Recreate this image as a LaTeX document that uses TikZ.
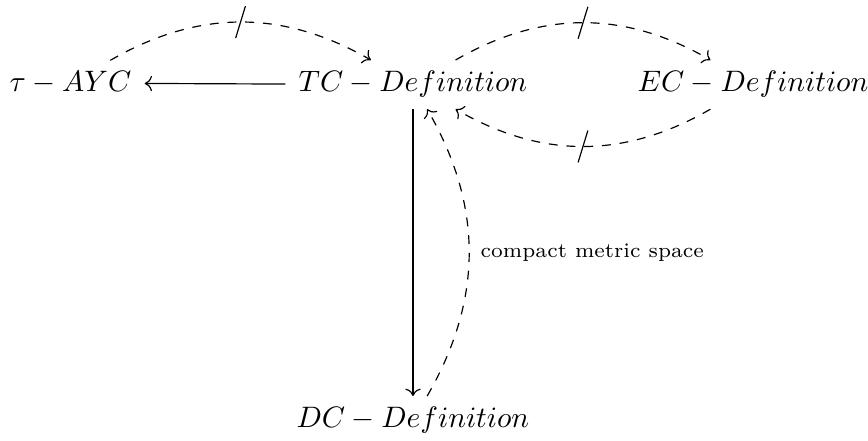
\documentclass[tikz,border=0pt]{standalone}
\usetikzlibrary{arrows.meta}
\begin{document}
\begin{tikzpicture}[x=0.338pt,y=-0.338pt,
  cell/.style={anchor=base, inner xsep=1ex, inner ysep=0.85ex},
  arr/.style={line width=0.4pt, -{Computer Modern Rightarrow}},
  slashmark/.style={midway, inner sep=0pt, rotate=-17},
  lbl/.style={midway, anchor=west, inner xsep=3.7pt, font=\scriptsize}]
\useasboundingbox (0,0) rectangle (868,441);
\node[cell] (tau) at (70.5,92) {$\tau - AYC$};
\node[cell] (tc) at (413,92) {$TC - Definition$};
\node[cell] (ec) at (753,92) {$EC - Definition$};
\node[cell] (dc) at (413,428) {$DC - Definition$};
\draw[arr] (tc) -- (tau);
\draw[arr] (tc) -- (dc);
\draw[arr,dashed] (tau) to[bend left=30] node[slashmark]{\rule{0.4pt}{11.3pt}} (tc);
\draw[arr,dashed] (tc) to[bend left=30] node[slashmark]{\rule{0.4pt}{11.3pt}} (ec);
\draw[arr,dashed] (ec) to[bend left=30] node[slashmark]{\rule{0.4pt}{11.3pt}} (tc);
\draw[arr,dashed] (dc) to[bend right=30] node[lbl]{compact metric space} (tc);
\end{tikzpicture}
\end{document}
